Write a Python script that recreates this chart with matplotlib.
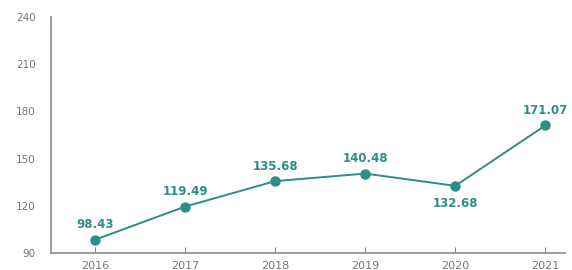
import matplotlib.pyplot as plt

years = [2016, 2017, 2018, 2019, 2020, 2021]
values = [98.43, 119.49, 135.68, 140.48, 132.68, 171.07]
yticks = [90, 120, 150, 180, 210, 240]

teal = '#2b8f84'
gray = '#8a8a8a'

fig = plt.figure(figsize=(5.72, 2.7), dpi=100)
ax = fig.add_axes([0.089, 0.063, 0.899, 0.874])

ax.plot(years, values, color=teal, lw=1.4, marker='o', ms=6.5, zorder=3)

for x, v in zip(years, values):
    if x == 2020:
        ax.annotate(f'{v:.2f}', (x, v), xytext=(0, -8), textcoords='offset points',
                    ha='center', va='top', color=teal, fontsize=8.5, fontweight='bold')
    else:
        ax.annotate(f'{v:.2f}', (x, v), xytext=(0, 6), textcoords='offset points',
                    ha='center', va='bottom', color=teal, fontsize=8.5, fontweight='bold')

ax.set_xlim(2015.51, 2021.22)
ax.set_ylim(90, 240)
ax.set_xticks(years)
ax.set_yticks(yticks)

for s in ['top', 'right']:
    ax.spines[s].set_visible(False)
ax.spines['left'].set_color(gray)
ax.spines['bottom'].set_color(gray)
ax.spines['left'].set_linewidth(1.2)
ax.spines['bottom'].set_linewidth(1.2)

ax.tick_params(axis='y', length=0, labelsize=7.5, labelcolor='#777777', pad=11)
ax.tick_params(axis='x', direction='in', length=4, color=gray, labelsize=8,
               labelcolor='#777777', pad=6)

fig.savefig('out.png', dpi=100)
